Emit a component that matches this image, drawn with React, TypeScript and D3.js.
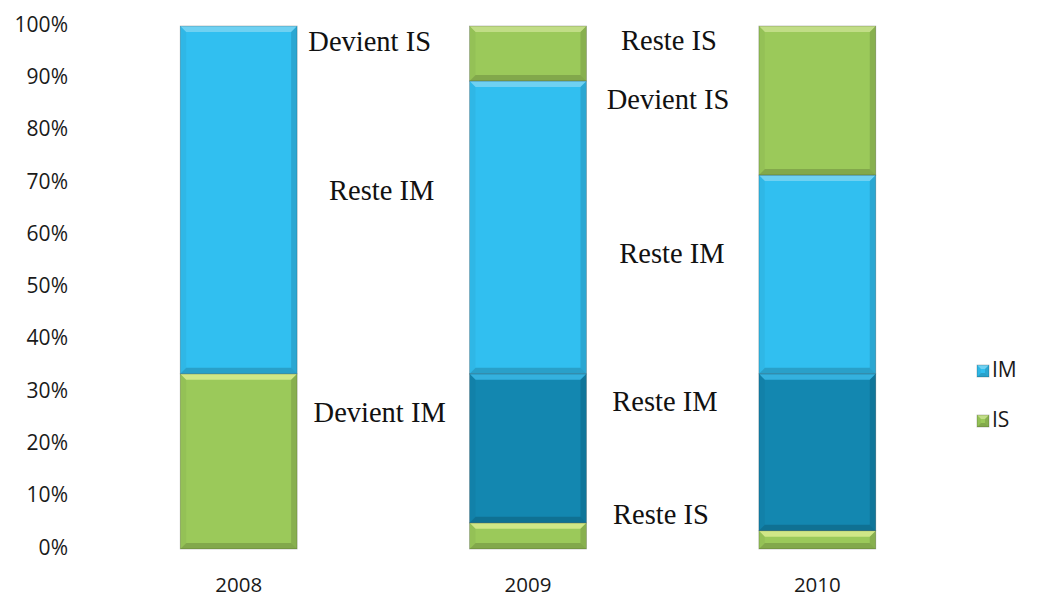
import React from 'react';
import * as d3 from 'd3';

// données (en %)
const years = ['2008', '2009', '2010'];
const isBas = [33.5, 5, 3.5];
const imFonce = [0, 28.5, 30];
const imClair = [66.5, 56, 38];
const isHaut = [0, 10.5, 28.5];
const tickValues = [0, 10, 20, 30, 40, 50, 60, 70, 80, 90, 100];

// étiquettes posées à droite des barres (valeur en %)
const annotations = [
  { year: '2008', text: 'Devient IS', value: 96.4, dx: 131 },
  { year: '2008', text: 'Reste IM', value: 67.9, dx: 143 },
  { year: '2008', text: 'Devient IM', value: 25.6, dx: 141 },
  { year: '2009', text: 'Reste IS', value: 96.6, dx: 141 },
  { year: '2009', text: 'Devient IS', value: 85.3, dx: 140 },
  { year: '2009', text: 'Reste IM', value: 56.0, dx: 144 },
  { year: '2009', text: 'Reste IM', value: 27.7, dx: 137 },
  { year: '2009', text: 'Reste IS', value: 6.1, dx: 133 },
];

const legendItems = [
  { label: 'IM', key: 'imClair' },
  { label: 'IS', key: 'isHaut' },
];

const colors: Record<string, { base: string; hi: string }> = {
  isBas: { base: '#9bc95a', hi: '#d9ec8f' },
  imFonce: { base: '#1387b0', hi: '#3bb9e6' },
  imClair: { base: '#31bff0', hi: '#7ad4f2' },
  isHaut: { base: '#9bc95a', hi: '#c8e18e' },
};

const keys = ['isBas', 'imFonce', 'imClair', 'isHaut'];

const W = 1049;
const H = 603;
const sans = "'Open Sans', sans-serif";

function BevelRect({ x, y, w, h, k }: { x: number; y: number; w: number; h: number; k: string }) {
  if (h <= 0) return null;
  const b = Math.min(6, h / 3);
  const c = colors[k];
  const top = `${x},${y} ${x + w},${y} ${x + w - b},${y + b} ${x + b},${y + b}`;
  const bot = `${x},${y + h} ${x + w},${y + h} ${x + w - b},${y + h - b} ${x + b},${y + h - b}`;
  const left = `${x},${y} ${x + b},${y + b} ${x + b},${y + h - b} ${x},${y + h}`;
  const right = `${x + w},${y} ${x + w - b},${y + b} ${x + w - b},${y + h - b} ${x + w},${y + h}`;
  return (
    <g>
      <rect x={x} y={y} width={w} height={h} fill={c.base} />
      <polygon points={top} fill={c.hi} opacity={0.85} />
      <polygon points={left} fill="#000" opacity={0.04} />
      <polygon points={right} fill="#000" opacity={0.12} />
      <polygon points={bot} fill="#000" opacity={0.16} />
      <rect x={x} y={y} width={w} height={h} fill="none" stroke="#000" strokeOpacity={0.25} strokeWidth={0.8} />
    </g>
  );
}

export default function App() {
  const x = d3.scalePoint<string>().domain(years).range([94, 962]).padding(0.5);
  const y = d3.scaleLinear().domain([0, 100]).range([549, 26]);
  const barW = x.step() * 0.404;

  const rows = years.map((yr, i) => ({
    year: yr,
    isBas: isBas[i],
    imFonce: imFonce[i],
    imClair: imClair[i],
    isHaut: isHaut[i],
  }));
  const stacked = d3.stack<any>().keys(keys)(rows);

  return (
    <svg width={W} height={H} style={{ position: 'absolute', left: 0, top: 0, background: '#fff' }}>
      {/* axe des ordonnées */}
      {tickValues.map((t) => (
        <text
          key={t}
          x={68}
          y={y(t)}
          textAnchor="end"
          dominantBaseline="middle"
          fontFamily={sans}
          fontSize={21}
          fill="#1a1a1a"
        >
          {t}%
        </text>
      ))}

      {/* barres */}
      {stacked.map((s) => (
        <g key={s.key}>
          {s.map((d, i) => {
            const cx = x(years[i]) as number;
            const y0 = y(d[1]);
            const y1 = y(d[0]);
            return <BevelRect key={i} x={cx - barW / 2} y={y0} w={barW} h={y1 - y0} k={s.key} />;
          })}
        </g>
      ))}

      {/* années */}
      {years.map((yr) => (
        <text
          key={yr}
          x={x(yr)}
          y={587}
          textAnchor="middle"
          dominantBaseline="middle"
          fontFamily={sans}
          fontSize={20.5}
          fill="#1a1a1a"
        >
          {yr}
        </text>
      ))}

      {/* étiquettes */}
      {annotations.map((a, i) => (
        <text
          key={i}
          x={(x(a.year) as number) + a.dx}
          y={y(a.value)}
          textAnchor="middle"
          dominantBaseline="middle"
          fontFamily="'Liberation Serif', 'Times New Roman', serif"
          fontSize={28.5}
          fill="#111"
        >
          {a.text}
        </text>
      ))}

      {/* légende */}
      {legendItems.map((l, i) => {
        const ly = 371 + i * 50;
        return (
          <g key={l.label}>
            <BevelRect x={977} y={ly - 6} w={12} h={12} k={l.key} />
            <text
              x={992}
              y={ly}
              dominantBaseline="middle"
              fontFamily={sans}
              fontSize={21}
              fill="#1a1a1a"
            >
              {l.label}
            </text>
          </g>
        );
      })}
    </svg>
  );
}
